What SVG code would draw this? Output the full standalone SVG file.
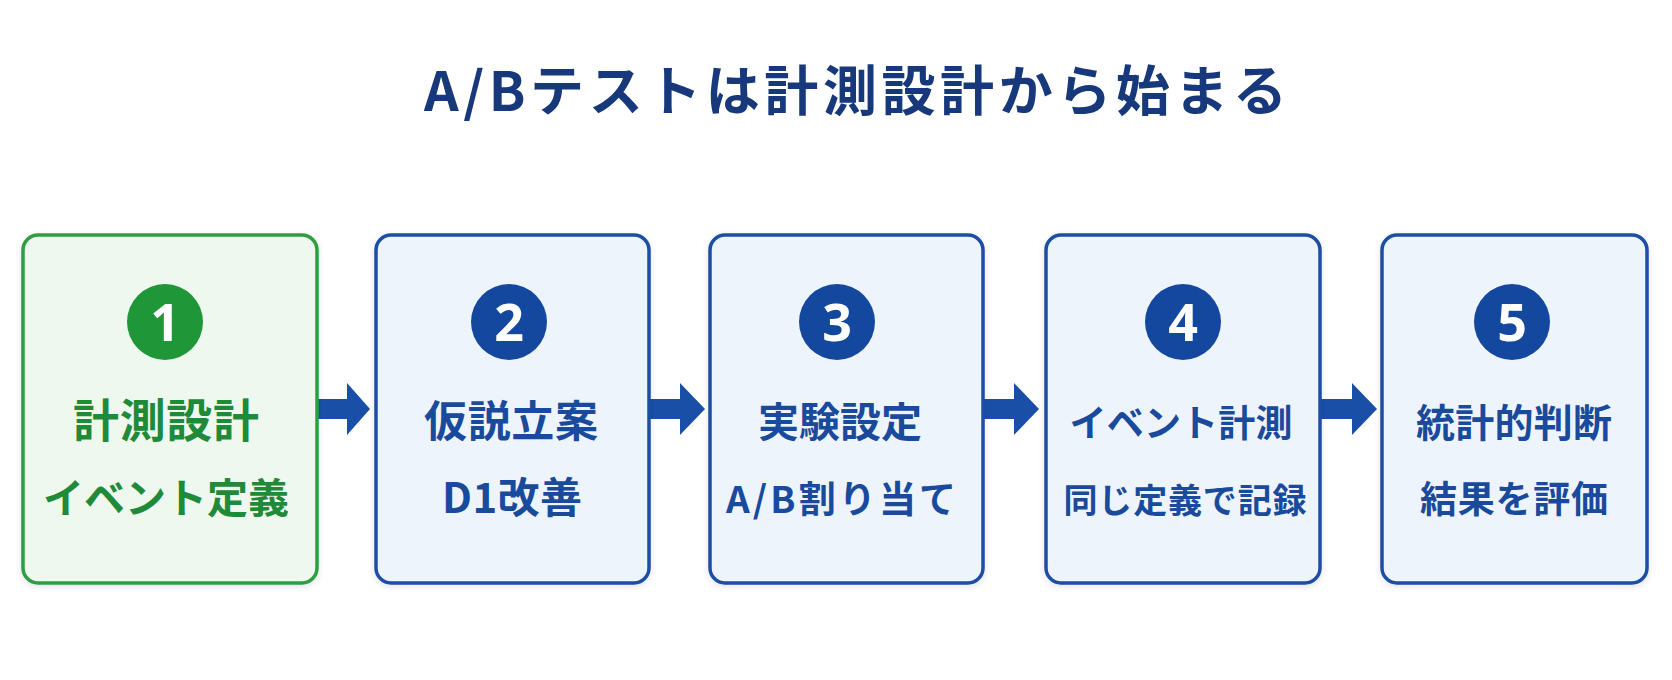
<svg xmlns="http://www.w3.org/2000/svg" width="1672" height="680" viewBox="0 0 1672 680">
  <defs>
    <filter id="sh" x="-10%" y="-10%" width="120%" height="120%">
      <feDropShadow dx="0" dy="2" stdDeviation="3" flood-color="#1a3a78" flood-opacity="0.12"/>
    </filter>
    <style>
      .title{font-family:"Noto Sans CJK JP","Noto Sans",sans-serif;font-weight:700;font-size:54px;fill:#17387a;}
      .box{fill:#eef4fc;stroke:#1b4fa3;stroke-width:3.5;filter:url(#sh);}
      .boxg{fill:#eef8ee;stroke:#2e9e40;stroke-width:3.5;filter:url(#sh);}
      .circ{fill:#14489e;}
      .circg{fill:#1f9638;}
      .num{font-family:"Noto Sans","Liberation Sans",sans-serif;font-weight:700;font-size:52px;fill:#ffffff;text-anchor:middle;}
      .lbl{font-family:"Noto Sans CJK JP","Noto Sans",sans-serif;font-weight:700;fill:#1a4a9c;text-anchor:middle;}
      .lblg{font-family:"Noto Sans CJK JP","Noto Sans",sans-serif;font-weight:700;fill:#1f8a38;text-anchor:middle;}
      .arrow{fill:#1a4fa8;}
    </style>
  </defs>
  <rect width="1672" height="680" fill="#ffffff"/>
  <text class="title" x="424" y="111" textLength="863" lengthAdjust="spacing">A/Bテストは計測設計から始まる</text>

  <g id="connectors">
    <polygon class="arrow" points="318,399 347,399 347,383 370,409 347,435 347,419 318,419"/>
    <polygon class="arrow" points="650,399 680,399 680,383 705,409 680,435 680,419 650,419"/>
    <polygon class="arrow" points="984,399 1014,399 1014,383 1039,409 1014,435 1014,419 984,419"/>
    <polygon class="arrow" points="1321,399 1352,399 1352,383 1377,409 1352,435 1352,419 1321,419"/>
  </g>

  <g id="node1">
    <rect class="boxg" x="23" y="235" width="294" height="348" rx="15"/>
    <circle class="circg" cx="165" cy="322" r="38"/>
    <text class="num" x="165" y="341">1</text>
    <text class="lblg" x="166" y="437" font-size="46" textLength="186" lengthAdjust="spacing">計測設計</text>
    <text class="lblg" x="166" y="513" font-size="41" textLength="246" lengthAdjust="spacing">イベント定義</text>
  </g>
  <g id="node2">
    <rect class="box" x="376" y="235" width="273" height="348" rx="15"/>
    <circle class="circ" cx="509" cy="322" r="38"/>
    <text class="num" x="509" y="341">2</text>
    <text class="lbl" x="511" y="437" font-size="43" textLength="174" lengthAdjust="spacing">仮説立案</text>
    <text class="lbl" x="512" y="513" font-size="42" textLength="140" lengthAdjust="spacing">D1改善</text>
  </g>
  <g id="node3">
    <rect class="box" x="710" y="235" width="273" height="348" rx="15"/>
    <circle class="circ" cx="837" cy="322" r="38"/>
    <text class="num" x="837" y="341">3</text>
    <text class="lbl" x="840" y="437" font-size="41" textLength="164" lengthAdjust="spacing">実験設定</text>
    <text class="lbl" x="841" y="513" font-size="37" textLength="230" lengthAdjust="spacing">A/B割り当て</text>
  </g>
  <g id="node4">
    <rect class="box" x="1046" y="235" width="274" height="348" rx="15"/>
    <circle class="circ" cx="1183" cy="322" r="38"/>
    <text class="num" x="1183" y="341">4</text>
    <text class="lbl" x="1181" y="437" font-size="37" textLength="223" lengthAdjust="spacing">イベント計測</text>
    <text class="lbl" x="1185" y="513" font-size="34" textLength="243" lengthAdjust="spacing">同じ定義で記録</text>
  </g>
  <g id="node5">
    <rect class="box" x="1382" y="235" width="265" height="348" rx="15"/>
    <circle class="circ" cx="1512" cy="322" r="38"/>
    <text class="num" x="1512" y="341">5</text>
    <text class="lbl" x="1514" y="437" font-size="39" textLength="196" lengthAdjust="spacing">統計的判断</text>
    <text class="lbl" x="1514" y="513" font-size="37" textLength="188" lengthAdjust="spacing">結果を評価</text>
  </g>
</svg>
